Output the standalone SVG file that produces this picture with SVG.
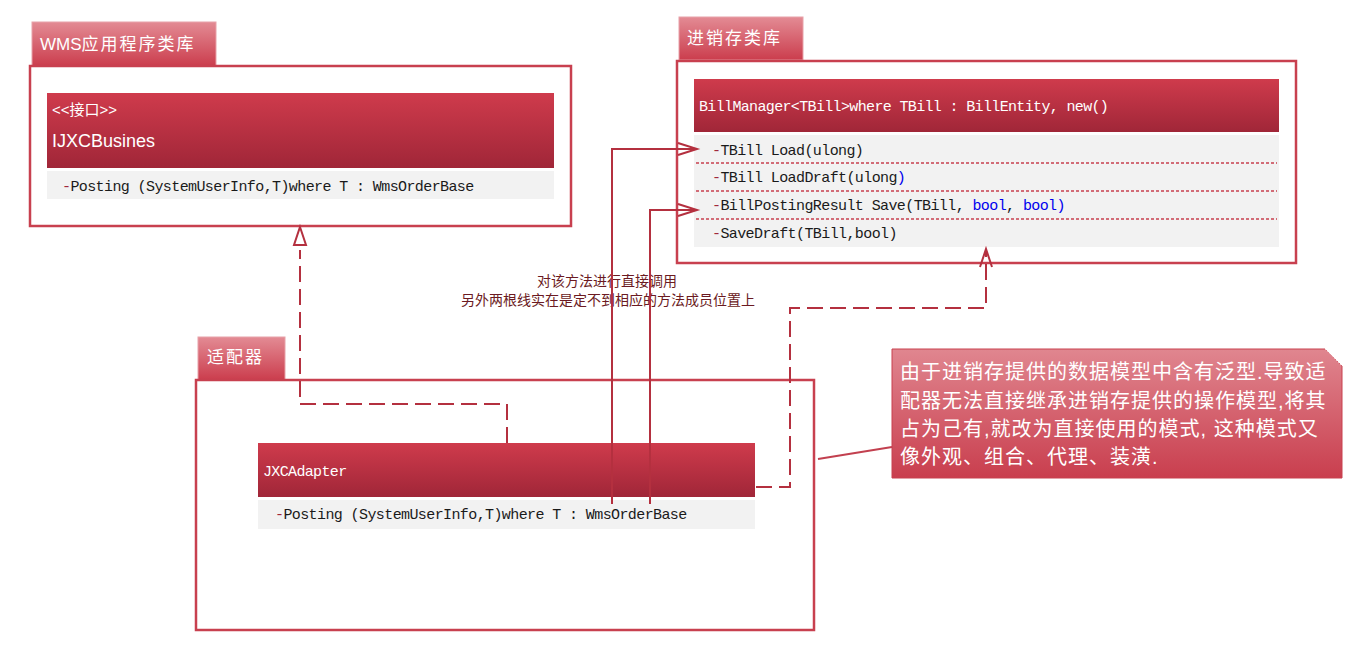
<svg xmlns="http://www.w3.org/2000/svg" width="1355" height="668" viewBox="0 0 1355 668">
<defs>
<linearGradient id="tabG" x1="0" y1="0" x2="0" y2="1"><stop offset="0" stop-color="#E38B94"/><stop offset="1" stop-color="#CB3D4D"/></linearGradient>
<linearGradient id="hdrG" x1="0" y1="0" x2="0" y2="1"><stop offset="0" stop-color="#CF3B4C"/><stop offset="1" stop-color="#A02638"/></linearGradient>
<linearGradient id="noteG" x1="0" y1="0" x2="0" y2="1"><stop offset="0" stop-color="#E0868F"/><stop offset="1" stop-color="#C93E4E"/></linearGradient>
<style>
.tab{fill:url(#tabG);stroke:#E8A2A9;stroke-width:1}
.tabt{font-family:"Liberation Sans","Noto Sans CJK SC",sans-serif;font-size:17px;fill:#fff;letter-spacing:2px}
.frame{fill:#fff;stroke:#C8404F;stroke-width:2.5}
.hdr{fill:url(#hdrG)}
.row{fill:#F2F2F2}
.mono{font-family:"Liberation Mono","Noto Sans CJK SC",monospace;font-size:15px;letter-spacing:-0.6px;fill:#1a1a1a}
.hmono{font-family:"Liberation Mono","Noto Sans CJK SC",monospace;font-size:15px;letter-spacing:-0.65px;fill:#fff}
.dash{fill:#A0283A}
.blue{fill:#0000EE}
.sep{stroke:#C8404F;stroke-width:1.5;stroke-dasharray:3 2;fill:none}
.conn{fill:none;stroke:#B4303F;stroke-width:2}
.dconn{fill:none;stroke:#B4303F;stroke-width:2;stroke-dasharray:16 7}
.solid{fill:none;stroke:#C2404F;stroke-width:2}
.cmt{font-family:"Liberation Sans","Noto Sans CJK SC",sans-serif;font-size:14px;fill:#6B1A22}
.notet{font-family:"Liberation Sans","Noto Sans CJK SC",sans-serif;font-size:20px;fill:#fff;letter-spacing:1px}
</style>
</defs>
<rect width="1355" height="668" fill="#fff"/>

<g id="wms-package">
<rect class="tab" x="32" y="22" width="184" height="44"/>
<text class="tabt" x="40" y="50"><tspan letter-spacing="0">WMS</tspan>应用程序类库</text>
<rect class="frame" x="30" y="66" width="541" height="160"/>
</g>
<g id="IJXCBusines">
<rect class="hdr" x="47" y="93" width="507" height="75"/>
<text x="52" y="115" font-family="Liberation Sans, Noto Sans CJK SC, sans-serif" font-size="15" fill="#fff">&lt;&lt;接口&gt;&gt;</text>
<text x="52" y="147" font-family="Liberation Sans, Noto Sans CJK SC, sans-serif" font-size="18" fill="#fff">IJXCBusines</text>
<rect class="row" x="47" y="171" width="507" height="28"/>
<text class="mono" x="62" y="191"><tspan class="dash">-</tspan>Posting (SystemUserInfo,T)where T : WmsOrderBase</text>
</g>

<g id="jxc-package">
<rect class="tab" x="679" y="17" width="124" height="43"/>
<text class="tabt" x="687" y="44">进销存类库</text>
<rect class="frame" x="677" y="61" width="619" height="202"/>
</g>
<g id="BillManager">
<rect class="hdr" x="694" y="79" width="585" height="53"/>
<text class="hmono" x="699" y="111">BillManager&lt;TBill&gt;where TBill : BillEntity, new()</text>
<rect class="row" x="694" y="135" width="585" height="112"/>
<line class="sep" x1="696" y1="163" x2="1277" y2="163"/>
<line class="sep" x1="696" y1="191" x2="1277" y2="191"/>
<line class="sep" x1="696" y1="219" x2="1277" y2="219"/>
<text class="mono" x="712" y="155"><tspan class="dash">-</tspan>TBill Load(ulong)</text>
<text class="mono" x="712" y="182"><tspan class="dash">-</tspan>TBill LoadDraft(ulong<tspan class="blue">)</tspan></text>
<text class="mono" x="712" y="210"><tspan class="dash">-</tspan>BillPostingResult Save(TBill, <tspan class="blue">bool</tspan>, <tspan class="blue">bool)</tspan></text>
<text class="mono" x="712" y="238"><tspan class="dash">-</tspan>SaveDraft(TBill,bool)</text>
</g>

<g id="adapter-package">
<rect class="tab" x="198" y="337" width="87" height="43"/>
<text class="tabt" x="207" y="363">适配器</text>
<rect class="frame" x="196" y="380" width="618" height="250"/>
</g>
<g id="JXCAdapter">
<rect class="hdr" x="258" y="443" width="497" height="54"/>
<text class="hmono" x="263" y="476">JXCAdapter</text>
<rect class="row" x="258" y="500" width="497" height="29"/>
<text class="mono" x="275" y="519"><tspan class="dash">-</tspan>Posting (SystemUserInfo,T)where T : WmsOrderBase</text>
</g>

<g id="note">
<path d="M892,349 H1325 L1342,366 V478 H892 Z" fill="url(#noteG)" stroke="#C8404F" stroke-width="1"/>
<path d="M1325,349 L1342,366" stroke="#F2C6CA" stroke-width="1" stroke-dasharray="2 1" fill="none"/>
<text class="notet" x="900" y="379">由于进销存提供的数据模型中含有泛型.导致适</text>
<text class="notet" x="900" y="408">配器无法直接继承进销存提供的操作模型,将其</text>
<text class="notet" x="900" y="436">占为己有,就改为直接使用的模式, 这种模式又</text>
<text class="notet" x="900" y="464">像外观、组合、代理、装潢.</text>
</g>

<g id="comment">
<text class="cmt" x="607" y="286" text-anchor="middle">对该方法进行直接调用</text>
<text class="cmt" x="608" y="305" text-anchor="middle">另外两根线实在是定不到相应的方法成员位置上</text>
</g>

<g id="connectors">
<path class="dconn" d="M507,443 V404 H300 V250"/>
<path d="M300,227 L306,245 L294,245 Z" fill="#fff" stroke="#B4303F" stroke-width="2"/>
<path class="conn" d="M612,504 V149 H696"/>
<path class="conn" d="M678,143 L697,149 L678,155"/>
<path class="conn" d="M650,504 V210 H696"/>
<path class="conn" d="M678,204 L697,210 L678,216"/>
<path class="dconn" d="M756,487 H790 V308 H986 V252"/>
<path class="conn" d="M980,267 L986,249 L992,267"/>
<path class="solid" d="M818,459 L892,447"/>
</g>
</svg>
